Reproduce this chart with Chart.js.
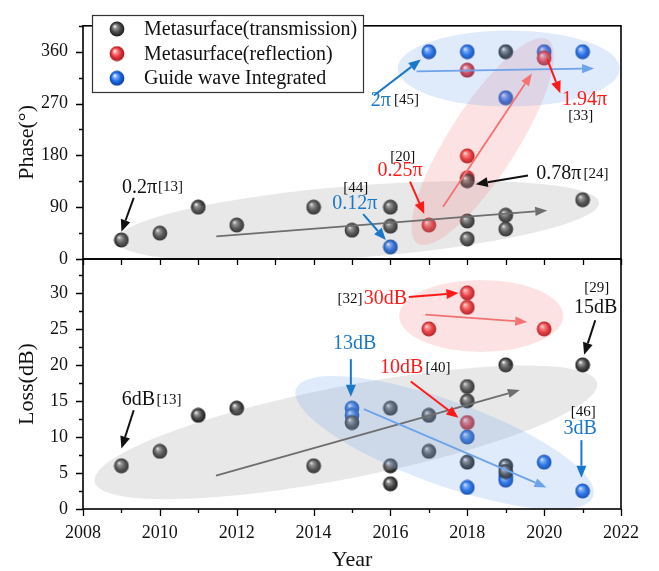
<!DOCTYPE html>
<html><head><meta charset="utf-8">
<script src="https://cdn.jsdelivr.net/npm/chart.js@4.4.1/dist/chart.umd.min.js"></script>
<style>
html,body{margin:0;padding:0;background:#fff;}
#wrap{position:relative;width:659px;height:571px;background:#fff;}
#wrap canvas{position:absolute;left:0;top:0;}
</style></head><body>
<div id="wrap"><canvas id="cTop" width="659" height="571"></canvas><canvas id="cBot" width="659" height="571"></canvas></div>
<script>
// ---------- data ----------
const SERIES_NAMES = ['Metasurface(transmission)', 'Metasurface(reflection)', 'Guide wave Integrated'];

const TRANS_PHASE_YEARS = [2009, 2010, 2011, 2012, 2014, 2015, 2016, 2016, 2018, 2018, 2018, 2019, 2019, 2019, 2021];
const TRANS_PHASE       = [33,   45,   90,   59,   90,   50,   90,   57,   136,  66,   35,   360,  76,   52,   103];
const REFL_PHASE_YEARS  = [2017, 2018, 2018, 2018, 2020];
const REFL_PHASE        = [59,   179,  141,  328,  349];
const GUIDE_PHASE_YEARS = [2016, 2017, 2018, 2019, 2020, 2021];
const GUIDE_PHASE       = [21,   360,  360,  280,  360,  360];

const TRANS_LOSS_YEARS = [2009, 2010, 2011, 2012, 2014, 2015, 2016, 2016, 2016, 2017, 2017, 2018, 2018, 2018, 2019, 2019, 2019, 2021];
const TRANS_LOSS       = [6,    8,    13,   14,   6,    12,   14,   6,    3.5,  13,   8,    17,   15,   6.5,  20,   6,    5.2,  20];
const REFL_LOSS_YEARS  = [2017, 2018, 2018, 2018, 2020];
const REFL_LOSS        = [25,   30,   28,   12,   25];
const GUIDE_LOSS_YEARS = [2015, 2015, 2018, 2018, 2019, 2019, 2020, 2021];
const GUIDE_LOSS       = [14,   13,   10,   3,    4.5,  4,    6.5,  2.5];

const YEAR_TICKS  = [2008, 2010, 2012, 2014, 2016, 2018, 2020, 2022];
const PHASE_TICKS = [0, 90, 180, 270, 360];
const LOSS_TICKS  = [0, 5, 10, 15, 20, 25, 30];

// ---------- annotations (data coordinates) ----------
const TOP_ELLIPSES = [
  {x: 2015.15, y: 65,    rx: 242, ry: 36, a: -4.5,  fill: 'rgba(150,150,150,0.22)'},
  {x: 2018.40, y: 204,   rx: 121, ry: 34, a: -57.4, fill: 'rgba(240,110,110,0.20)'},
  {x: 2019.08, y: 330.7, rx: 111, ry: 38, a: 0,     fill: 'rgba(110,160,235,0.22)'}
];
const BOT_ELLIPSES = [
  {x: 2014.84, y: 10.64, rx: 256, ry: 46, a: -11.1, fill: 'rgba(150,150,150,0.22)'},
  {x: 2018.36, y: 26.8,  rx: 82,  ry: 36, a: 0,     fill: 'rgba(240,110,110,0.20)'},
  {x: 2017.41, y: 9.2,   rx: 158, ry: 42, a: 19.9,  fill: 'rgba(110,160,235,0.22)'}
];
const C_GRAY = '#6e6e6e', C_PINK = '#f47272', C_LBLUE = '#6ea3ea';
const C_BLACK = '#111111', C_RED = '#ff1a1a', C_BLUE = '#1a78c8';
const TOP_TRENDS = [
  {x1: 2011.47, y1: 39.2, x2: 2020.08, y2: 84.3, c: C_GRAY},
  {x1: 2017.37, y1: 90.8, x2: 2019.68, y2: 322,  c: C_PINK},
  {x1: 2016.68, y1: 326,  x2: 2021.30, y2: 331,  c: C_LBLUE}
];
const BOT_TRENDS = [
  {x1: 2011.46, y1: 4.62,  x2: 2019.37, y2: 16.5,  c: C_GRAY},
  {x1: 2015.31, y1: 13.86, x2: 2020.06, y2: 3.0,   c: C_LBLUE},
  {x1: 2016.91, y1: 26.97, x2: 2019.56, y2: 25.96, c: C_PINK}
];
const TOP_ARROWS = [
  {x1: 2015.57, y1: 283.9, x2: 2016.79, y2: 346.4, c: C_BLUE},
  {x1: 2020.08, y1: 347,   x2: 2020.42, y2: 288,   c: C_RED},
  {x1: 2009.32, y1: 106,   x2: 2009.0,  y2: 47.3,  c: C_BLACK},
  {x1: 2015.29, y1: 78,    x2: 2015.88, y2: 33,    c: C_BLUE},
  {x1: 2016.51, y1: 134.4, x2: 2016.88, y2: 78,    c: C_RED},
  {x1: 2019.58, y1: 145,   x2: 2018.22, y2: 130,   c: C_BLACK}
];
const BOT_ARROWS = [
  {x1: 2016.48, y1: 29.42, x2: 2017.77, y2: 29.98, c: C_RED},
  {x1: 2021.33, y1: 26.2,  x2: 2021.04, y2: 21.4,  c: C_BLACK},
  {x1: 2014.97, y1: 20.8,  x2: 2014.97, y2: 15.57, c: C_BLUE},
  {x1: 2016.53, y1: 17.7,  x2: 2017.77, y2: 12.66, c: C_RED},
  {x1: 2009.32, y1: 13.7,  x2: 2009.0,  y2: 8.4,   c: C_BLACK},
  {x1: 2020.97, y1: 9.56,  x2: 2020.97, y2: 4.34,  c: C_BLUE}
];
const TOP_TEXTS = [
  {x: 2009.47, y: 124.5, t: '0.2π',  c: C_BLACK, s: 20},
  {x: 2010.28, y: 124.5, t: '[13]',  c: C_BLACK, s: 15},
  {x: 2015.10, y: 123.4, t: '[44]',  c: C_BLACK, s: 15},
  {x: 2015.07, y: 96.3,  t: '0.12π', c: C_BLUE,  s: 20},
  {x: 2016.32, y: 177.8, t: '[20]',  c: C_BLACK, s: 15},
  {x: 2016.25, y: 153.4, t: '0.25π', c: C_RED,   s: 20},
  {x: 2020.38, y: 148,   t: '0.78π', c: C_BLACK, s: 20},
  {x: 2021.35, y: 148,   t: '[24]',  c: C_BLACK, s: 15},
  {x: 2015.75, y: 275.7, t: '2π',    c: C_BLUE,  s: 20},
  {x: 2016.42, y: 275.7, t: '[45]',  c: C_BLACK, s: 15},
  {x: 2021.05, y: 276,   t: '1.94π', c: C_RED,   s: 20},
  {x: 2020.95, y: 249,   t: '[33]',  c: C_BLACK, s: 15}
];
const BOT_TEXTS = [
  {x: 2014.95, y: 29.2, t: '[32]', c: C_BLACK, s: 15},
  {x: 2015.87, y: 29.2, t: '30dB', c: C_RED,   s: 20},
  {x: 2021.37, y: 30.6, t: '[29]', c: C_BLACK, s: 15},
  {x: 2021.34, y: 28.0, t: '15dB', c: C_BLACK, s: 20},
  {x: 2015.07, y: 22.96,t: '13dB', c: C_BLUE,  s: 20},
  {x: 2016.29, y: 19.63,t: '10dB', c: C_RED,   s: 20},
  {x: 2017.24, y: 19.63,t: '[40]', c: C_BLACK, s: 15},
  {x: 2009.44, y: 15.1, t: '6dB',  c: C_BLACK, s: 20},
  {x: 2010.24, y: 15.1, t: '[13]', c: C_BLACK, s: 15},
  {x: 2021.02, y: 13.5, t: '[46]', c: C_BLACK, s: 15},
  {x: 2020.94, y: 11.2, t: '3dB',  c: C_BLUE,  s: 20}
];

// ---------- styling helpers ----------
const FONT = "'Liberation Serif', 'Times New Roman', serif";
Chart.defaults.font.family = FONT;
Chart.defaults.color = '#111';

function sphere(base, light, dark) {
  const d = 16, c = document.createElement('canvas');
  c.width = d; c.height = d;
  const g = c.getContext('2d');
  const cx = 8, cy = 8, r = 7.4;
  const grad = g.createRadialGradient(cx - 2.4, cy - 2.8, 0.3, cx, cy, r);
  grad.addColorStop(0, '#ffffff');
  grad.addColorStop(0.2, light);
  grad.addColorStop(0.6, base);
  grad.addColorStop(1, dark);
  g.fillStyle = grad;
  g.beginPath(); g.arc(cx, cy, r, 0, Math.PI * 2); g.fill();
  return c;
}
const BALLS = [
  sphere('#4a4a4a', '#9c9c9c', '#1c1c1c'),
  sphere('#e8373d', '#ff9d9d', '#a3161b'),
  sphere('#1c6ae6', '#86b4ff', '#0c3f9c')
];

function pts(xs, ys) { return xs.map((x, i) => ({x: x, y: ys[i]})); }

function makeDatasets(sets) {
  return sets.map((s, i) => ({
    label: SERIES_NAMES[i],
    data: pts(s[0], s[1]),
    pointStyle: BALLS[i],
    pointRadius: 7,
    pointHoverRadius: 7,
    showLine: false,
    clip: false
  }));
}

function arrow(ctx, x1, y1, x2, y2, color, lw, hl, hw) {
  const ang = Math.atan2(y2 - y1, x2 - x1);
  const bx = x2 - hl * Math.cos(ang), by = y2 - hl * Math.sin(ang);
  ctx.strokeStyle = color; ctx.fillStyle = color; ctx.lineWidth = lw;
  ctx.beginPath(); ctx.moveTo(x1, y1); ctx.lineTo(bx, by); ctx.stroke();
  ctx.beginPath();
  ctx.moveTo(x2, y2);
  ctx.lineTo(bx + hw * Math.sin(ang), by - hw * Math.cos(ang));
  ctx.lineTo(bx - hw * Math.sin(ang), by + hw * Math.cos(ang));
  ctx.closePath(); ctx.fill();
}

function overlayPlugin(ellipses, trends, arrows, texts) {
  return {
    id: 'overlay',
    afterDatasetsDraw(chart) {
      const {ctx, chartArea: ca, scales: {x, y}} = chart;
      ctx.save();
      ctx.beginPath(); ctx.rect(ca.left, ca.top, ca.right - ca.left, ca.bottom - ca.top); ctx.clip();
      ellipses.forEach(e => {
        ctx.save();
        ctx.translate(x.getPixelForValue(e.x), y.getPixelForValue(e.y));
        ctx.rotate(e.a * Math.PI / 180);
        ctx.fillStyle = e.fill;
        ctx.beginPath(); ctx.ellipse(0, 0, e.rx, e.ry, 0, 0, Math.PI * 2); ctx.fill();
        ctx.restore();
      });
      trends.forEach(t => arrow(ctx, x.getPixelForValue(t.x1), y.getPixelForValue(t.y1),
        x.getPixelForValue(t.x2), y.getPixelForValue(t.y2), t.c, 1.8, 12, 4.6));
      arrows.forEach(t => arrow(ctx, x.getPixelForValue(t.x1), y.getPixelForValue(t.y1),
        x.getPixelForValue(t.x2), y.getPixelForValue(t.y2), t.c, 2, 12, 5));
      ctx.textAlign = 'center'; ctx.textBaseline = 'middle';
      texts.forEach(t => {
        ctx.font = t.s + 'px ' + FONT;
        ctx.fillStyle = t.c;
        ctx.fillText(t.t, x.getPixelForValue(t.x), y.getPixelForValue(t.y));
      });
      ctx.restore();
    }
  };
}

function framePlugin(minorStep, majorStep, yMax, boundary, drawLegend) {
  return {
    id: 'frame',
    afterDraw(chart) {
      const {ctx, chartArea: ca, scales: {x, y}} = chart;
      ctx.save();
      ctx.strokeStyle = '#000'; ctx.lineWidth = 1.6;
      ctx.strokeRect(ca.left, ca.top, ca.right - ca.left, ca.bottom - ca.top);
      ctx.lineWidth = 1.3;
      ctx.beginPath();
      for (let v = 0; v <= yMax + 1e-6; v += minorStep) {
        const py = Math.round(y.getPixelForValue(v)) + 0.5;
        const major = Math.abs(v / majorStep - Math.round(v / majorStep)) < 1e-6;
        ctx.moveTo(ca.left, py); ctx.lineTo(ca.left - (major ? 7 : 4), py);
      }
      for (let yr = 2008; yr <= 2022; yr++) {
        const px = Math.round(x.getPixelForValue(yr)) + 0.5;
        const len = boundary ? 6 : ((yr % 2 === 0) ? 7 : 4);
        ctx.moveTo(px, ca.bottom); ctx.lineTo(px, ca.bottom + len);
      }
      ctx.stroke();
      if (drawLegend) {
        const L = 92, T = 15, W = 271, H = 77;
        ctx.fillStyle = '#fff'; ctx.fillRect(L, T, W, H);
        ctx.strokeStyle = '#333'; ctx.lineWidth = 1.2; ctx.strokeRect(L + 0.5, T + 0.5, W, H);
        ctx.font = '20px ' + FONT; ctx.fillStyle = '#111';
        ctx.textAlign = 'left'; ctx.textBaseline = 'middle';
        chart.data.datasets.forEach((ds, i) => {
          const ry = T + 14 + i * 24.6;
          ctx.drawImage(ds.pointStyle, 117 - 8, ry - 8);
          ctx.fillText(ds.label, 144, ry + 1);
        });
      }
      ctx.restore();
    }
  };
}

const LEFT = 83, RIGHT_PAD = 659 - 621;
const yFontTicks = {size: 18, family: FONT};

// ---------- top chart (phase) ----------
new Chart(document.getElementById('cTop'), {
  type: 'scatter',
  data: {datasets: makeDatasets([[TRANS_PHASE_YEARS, TRANS_PHASE], [REFL_PHASE_YEARS, REFL_PHASE], [GUIDE_PHASE_YEARS, GUIDE_PHASE]])},
  options: {
    responsive: false, animation: false, devicePixelRatio: 1,
    layout: {padding: {left: 0, right: RIGHT_PAD, top: 11, bottom: 571 - 259}},
    plugins: {legend: {display: false}, tooltip: {enabled: false}},
    scales: {
      x: {type: 'linear', min: 2008, max: 2022, display: false},
      y: {
        type: 'linear', min: 0, max: 405,
        afterBuildTicks: s => { s.ticks = PHASE_TICKS.map(v => ({value: v})); },
        afterFit: s => { s.width = LEFT; },
        grid: {display: false, drawTicks: false}, border: {display: false},
        ticks: {font: yFontTicks, padding: 15, color: '#111', callback: v => String(v)},
        title: {display: true, text: 'Phase(°)', font: {size: 22, family: FONT, lineHeight: 1}, color: '#111', padding: {top: 16, bottom: 0}}
      }
    }
  },
  plugins: [overlayPlugin(TOP_ELLIPSES, TOP_TRENDS, TOP_ARROWS, TOP_TEXTS), framePlugin(45, 90, 405, true, true)]
});

// ---------- bottom chart (loss) ----------
new Chart(document.getElementById('cBot'), {
  type: 'scatter',
  data: {datasets: makeDatasets([[TRANS_LOSS_YEARS, TRANS_LOSS], [REFL_LOSS_YEARS, REFL_LOSS], [GUIDE_LOSS_YEARS, GUIDE_LOSS]])},
  options: {
    responsive: false, animation: false, devicePixelRatio: 1,
    layout: {padding: {left: 0, right: RIGHT_PAD, top: 259, bottom: 0}},
    plugins: {legend: {display: false}, tooltip: {enabled: false}},
    scales: {
      x: {
        type: 'linear', min: 2008, max: 2022,
        afterBuildTicks: s => { s.ticks = YEAR_TICKS.map(v => ({value: v})); },
        afterFit: s => { s.height = 571 - 509; },
        grid: {display: false, drawTicks: false}, border: {display: false},
        ticks: {font: yFontTicks, padding: 13, color: '#111', maxRotation: 0, autoSkip: false, callback: v => String(v)},
        title: {display: true, text: 'Year', font: {size: 22, family: FONT, lineHeight: 1}, color: '#111', padding: {top: 0, bottom: 0}}
      },
      y: {
        type: 'linear', min: 0, max: 34.7,
        afterBuildTicks: s => { s.ticks = LOSS_TICKS.map(v => ({value: v})); },
        afterFit: s => { s.width = LEFT; },
        grid: {display: false, drawTicks: false}, border: {display: false},
        ticks: {font: yFontTicks, padding: 15, color: '#111', callback: v => String(v)},
        title: {display: true, text: 'Loss(dB)', font: {size: 22, family: FONT, lineHeight: 1}, color: '#111', padding: {top: 16, bottom: 0}}
      }
    }
  },
  plugins: [overlayPlugin(BOT_ELLIPSES, BOT_TRENDS, BOT_ARROWS, BOT_TEXTS), framePlugin(2.5, 5, 34.7, false, false)]
});
</script>
</body></html>
